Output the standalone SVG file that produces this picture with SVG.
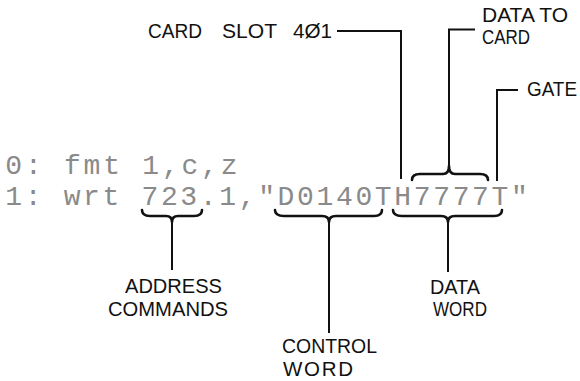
<svg xmlns="http://www.w3.org/2000/svg" width="580" height="381" viewBox="0 0 580 381">
<style>
.lbl{font-family:"Liberation Sans",Arial,sans-serif;font-size:20.5px;fill:#111}
.code{font-family:"Liberation Mono","Courier New",monospace;font-size:28px;fill:#8a8a8a}
.ln{fill:none;stroke:#111;stroke-width:2}
.br{fill:none;stroke:#111;stroke-width:2.6;stroke-linecap:round;stroke-linejoin:round}
</style>
<rect width="580" height="381" fill="#fff"/>
<g id="code">
<text class="code" x="5.3" y="174" textLength="232.2" lengthAdjust="spacing" xml:space="preserve">0: fmt 1,c,z</text>
<text class="code" x="5.3" y="205" textLength="522.5" lengthAdjust="spacing" xml:space="preserve">1: wrt 723.1,"D0140TH7777T"</text>
</g>
<g id="card-slot">
<text class="lbl" x="148" y="38" font-size="21" textLength="54" lengthAdjust="spacingAndGlyphs">CARD</text>
<text class="lbl" x="222" y="38" font-size="21" textLength="55" lengthAdjust="spacingAndGlyphs">SLOT</text>
<text class="lbl" x="293" y="38" font-size="21" textLength="39" lengthAdjust="spacingAndGlyphs">4Ø1</text>
</g>
<g id="data-to-card">
<text class="lbl" x="482" y="22" font-size="19" textLength="86" lengthAdjust="spacingAndGlyphs">DATA TO</text>
<text class="lbl" x="482" y="44" font-size="19" textLength="48" lengthAdjust="spacingAndGlyphs">CARD</text>
</g>
<g id="gate">
<text class="lbl" x="527" y="96" textLength="50" lengthAdjust="spacingAndGlyphs">GATE</text>
</g>
<g id="address-commands">
<text class="lbl" x="125" y="293" font-size="19.5" textLength="97" lengthAdjust="spacingAndGlyphs">ADDRESS</text>
<text class="lbl" x="108" y="316" font-size="19.5" textLength="120" lengthAdjust="spacingAndGlyphs">COMMANDS</text>
</g>
<g id="control-word">
<text class="lbl" x="282" y="353" textLength="95" lengthAdjust="spacingAndGlyphs">CONTROL</text>
<text class="lbl" x="283" y="376" textLength="70" lengthAdjust="spacing">WORD</text>
</g>
<g id="data-word">
<text class="lbl" x="430" y="294" font-size="19" textLength="50" lengthAdjust="spacingAndGlyphs">DATA</text>
<text class="lbl" x="433" y="316" font-size="19" textLength="54" lengthAdjust="spacingAndGlyphs">WORD</text>
</g>
<g id="connectors">
<path class="ln" d="M337,31 H401 V179"/>
<path class="ln" d="M475,29.5 H449 V165"/>
<path class="ln" d="M518,90 H497 V181"/>
<path class="br" d="M412,180 Q412,174 420,174 L443,174 Q449,174 449,166 Q449,174 455,174 L480,174 Q488,174 488,180"/>
<path class="br" d="M142,210 Q142,216 150,216 L166,216 Q172,216 172,222 Q172,216 178,216 L194,216 Q202,216 202,210"/>
<path class="br" d="M275,210 Q275,216 284,216 L322,216 Q329,216 329,222 Q329,216 336,216 L374,216 Q382,216 382,210"/>
<path class="br" d="M393,210 Q393,216 402,216 L441,216 Q448,216 448,222 Q448,216 455,216 L494,216 Q502,216 502,210"/>
<path class="ln" d="M172,222 V270"/>
<path class="ln" d="M329,222 V333"/>
<path class="ln" d="M448,222 V272"/>
</g>
</svg>
